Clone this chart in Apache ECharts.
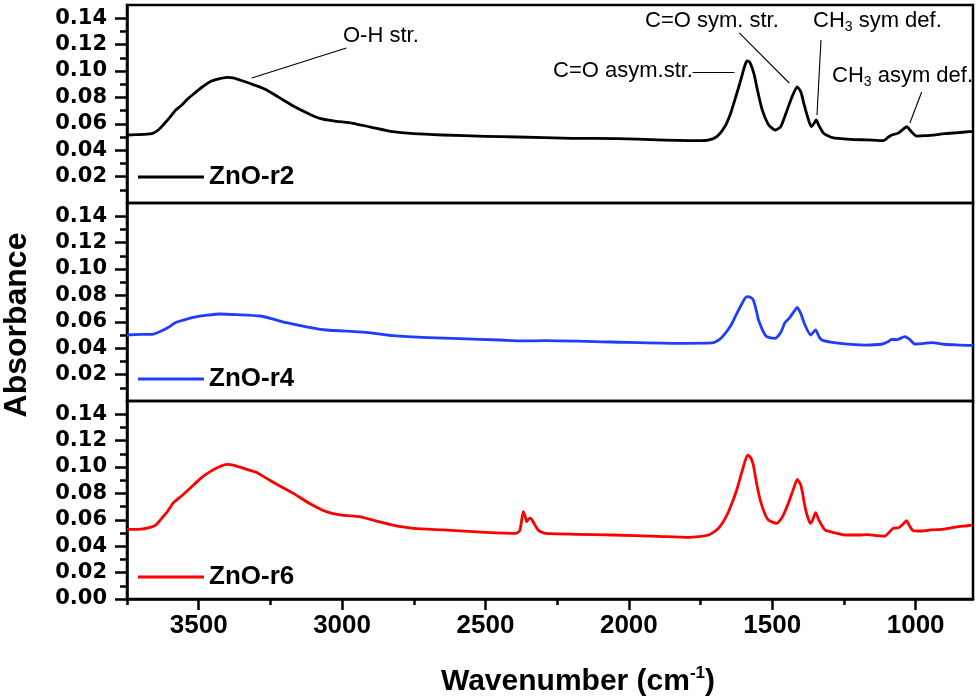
<!DOCTYPE html>
<html>
<head>
<meta charset="utf-8">
<script src="https://cdn.jsdelivr.net/npm/echarts@6/dist/echarts.min.js"></script>
<style>
html,body{margin:0;padding:0;background:#fff;}
#chart{width:980px;height:700px;}
</style>
</head>
<body>
<div id="chart"></div>
<script>
// ---- data ----
const seriesNames = ['ZnO-r2', 'ZnO-r4', 'ZnO-r6'];
const seriesColors = ['#000000', '#1f3cff', '#ff0000'];

const wnR2 = [3750,3720,3690,3660,3640,3620,3600,3580,3560,3540,3518,3490,3460,3430,3402,3380,3356,3320,3290,3263,3220,3170,3120,3078,3030,2962,2900,2823,2750,2649,2500,2387,2200,2039,1900,1750,1720,1692,1665,1645,1625,1610,1595,1587,1578,1564,1550,1535,1515,1500,1489,1470,1448,1430,1413,1400,1390,1375,1364,1355,1347,1338,1321,1290,1228,1170,1112,1095,1083,1060,1040,1031,1015,996,970,938,900,860,814,800];
const absR2 = [0.0515,0.0518,0.0520,0.0528,0.0555,0.0600,0.0650,0.0705,0.0740,0.0785,0.0826,0.0875,0.0919,0.0940,0.0952,0.0948,0.0932,0.0905,0.0882,0.0856,0.0800,0.0735,0.0680,0.0641,0.0622,0.0604,0.0575,0.0540,0.0525,0.0515,0.0505,0.0500,0.0490,0.0488,0.0478,0.0472,0.0478,0.0505,0.0580,0.0680,0.0820,0.0930,0.1045,0.1076,0.1065,0.0980,0.0840,0.0705,0.0600,0.0565,0.0553,0.0580,0.0705,0.0810,0.0880,0.0840,0.0755,0.0640,0.0578,0.0600,0.0629,0.0590,0.0528,0.0495,0.0482,0.0478,0.0472,0.0500,0.0515,0.0530,0.0565,0.0578,0.0540,0.0507,0.0510,0.0515,0.0525,0.0532,0.0540,0.0542];

const wnR4 = [3750,3700,3657,3623,3600,3582,3550,3518,3470,3425,3368,3286,3240,3194,3120,3055,2939,2880,2823,2700,2591,2450,2371,2290,2058,1826,1710,1685,1664,1645,1629,1605,1589,1575,1566,1555,1548,1530,1519,1490,1470,1456,1440,1425,1413,1400,1386,1366,1349,1335,1322,1247,1177,1119,1095,1085,1065,1038,1020,1003,975,946,900,860,818,800];
const absR4 = [0.0500,0.0505,0.0507,0.0538,0.0565,0.0593,0.0615,0.0634,0.0650,0.0659,0.0654,0.0644,0.0620,0.0593,0.0560,0.0538,0.0523,0.0510,0.0495,0.0480,0.0472,0.0462,0.0455,0.0457,0.0447,0.0437,0.0440,0.0465,0.0513,0.0570,0.0639,0.0740,0.0790,0.0785,0.0765,0.0680,0.0614,0.0520,0.0487,0.0475,0.0520,0.0593,0.0630,0.0675,0.0710,0.0660,0.0576,0.0500,0.0538,0.0480,0.0457,0.0432,0.0424,0.0430,0.0450,0.0467,0.0465,0.0487,0.0465,0.0432,0.0435,0.0442,0.0430,0.0425,0.0422,0.0422];

const wnR6 = [3750,3700,3669,3650,3634,3610,3588,3560,3518,3490,3460,3430,3402,3380,3344,3300,3263,3220,3170,3110,3055,3000,2939,2880,2823,2750,2649,2500,2394,2380,2368,2362,2356,2348,2342,2330,2315,2290,2058,1900,1792,1722,1690,1664,1645,1624,1605,1586,1575,1566,1555,1542,1525,1513,1485,1465,1444,1425,1413,1400,1386,1375,1366,1357,1349,1338,1316,1280,1247,1200,1166,1140,1108,1079,1060,1045,1032,1020,1009,980,946,900,860,820,802];
const absR6 = [0.0528,0.0530,0.0543,0.0560,0.0598,0.0660,0.0730,0.0780,0.0864,0.0920,0.0965,0.1000,0.1020,0.1015,0.0990,0.0960,0.0914,0.0860,0.0800,0.0720,0.0662,0.0635,0.0624,0.0590,0.0560,0.0535,0.0523,0.0505,0.0497,0.0520,0.0662,0.0630,0.0586,0.0610,0.0610,0.0570,0.0520,0.0497,0.0485,0.0475,0.0467,0.0485,0.0530,0.0611,0.0700,0.0826,0.0970,0.1090,0.1070,0.1015,0.0880,0.0750,0.0640,0.0598,0.0573,0.0620,0.0725,0.0840,0.0907,0.0860,0.0700,0.0610,0.0573,0.0610,0.0654,0.0600,0.0523,0.0500,0.0485,0.0485,0.0488,0.0480,0.0477,0.0535,0.0540,0.0565,0.0593,0.0550,0.0518,0.0515,0.0523,0.0530,0.0545,0.0555,0.0560];

const xMajorTicks = [3500, 3000, 2500, 2000, 1500, 1000];
const xMinorTicks = [3750, 3250, 2750, 2250, 1750, 1250];
const yMajorTicksTop = [0.02, 0.04, 0.06, 0.08, 0.10, 0.12, 0.14];
const yMajorTicksBottom = [0.00, 0.02, 0.04, 0.06, 0.08, 0.10, 0.12, 0.14];
const yMinorTicks = [0.01, 0.03, 0.05, 0.07, 0.09, 0.11, 0.13];

// annotation leader lines (data space of top panel): [wn1, abs1, wn2, abs2]
const leaderLines = [
  [2985, 0.1174, 3315, 0.0947],
  [1778, 0.0992, 1632, 0.0992],
  [1615, 0.1288, 1441, 0.0909],
  [1330, 0.1235, 1344, 0.0667],
  [979, 0.0841, 1020, 0.0606]
];

// ---- chart ----
const chart = echarts.init(document.getElementById('chart'), null, {renderer: 'canvas'});
const wnList = [wnR2, wnR4, wnR6];
const absList = [absR2, absR4, absR6];

const PL = 127, PW = 846, PH = 198, TOPS = [5, 203, 401];

const grids = TOPS.map(t => ({left: PL, top: t, width: PW, height: PH, show: true,
  borderColor: '#000', borderWidth: 2.5, backgroundColor: 'transparent', containLabel: false}));

const xAxes = [];
const yAxes = [];
for (let i = 0; i < 3; i++) {
  const bottom = i === 2;
  xAxes.push({
    type: 'value', gridIndex: i, min: 800, max: 3750, inverse: true, position: 'bottom',
    axisLine: {show: bottom, lineStyle: {color: '#000', width: 2.5}},
    axisTick: {show: bottom, customValues: xMajorTicks, length: 11, inside: false, lineStyle: {color: '#000', width: 2.5}},
    axisLabel: {show: bottom, customValues: xMajorTicks, margin: 14, color: '#000',
      fontFamily: 'Liberation Sans', fontWeight: 'bold', fontSize: 26,
      formatter: v => String(Math.round(v))},
    splitLine: {show: false},
    name: bottom ? '{a|Wavenumber (cm}{s|-1}{a|)}' : '',
    nameLocation: 'middle', nameGap: 66,
    nameTextStyle: {padding: [0, 0, 0, 56], rich: {
      a: {fontFamily: 'Liberation Sans', fontWeight: 'bold', fontSize: 30, color: '#000', lineHeight: 34},
      s: {fontFamily: 'Liberation Sans', fontWeight: 'bold', fontSize: 17, color: '#000', lineHeight: 16, verticalAlign: 'top'}
    }}
  });
  if (bottom) {
    xAxes.push({
      type: 'value', gridIndex: i, min: 800, max: 3750, inverse: true, position: 'bottom', offset: 0,
      axisLine: {show: false},
      axisTick: {show: true, customValues: xMinorTicks, length: 6, lineStyle: {color: '#000', width: 2.5}},
      axisLabel: {show: false}, splitLine: {show: false}
    });
  }
  const majors = bottom ? yMajorTicksBottom : yMajorTicksTop;
  yAxes.push({
    type: 'value', gridIndex: i, min: 0, max: 0.15, position: 'left',
    axisLine: {show: true, lineStyle: {color: '#000', width: 2.5}},
    axisTick: {show: true, customValues: majors, length: 12, lineStyle: {color: '#000', width: 2.5}},
    axisLabel: {show: true, customValues: majors, margin: 20, color: '#000',
      fontFamily: 'DejaVu Sans', fontWeight: 'bold', fontSize: 21,
      formatter: v => Number(v).toFixed(2)},
    splitLine: {show: false}
  });
  yAxes.push({
    type: 'value', gridIndex: i, min: 0, max: 0.15, position: 'left', offset: 0,
    axisLine: {show: false},
    axisTick: {show: true, customValues: yMinorTicks, length: 7, lineStyle: {color: '#000', width: 2.5}},
    axisLabel: {show: false}, splitLine: {show: false}
  });
}

const xIdx = [0, 1, 2];
const series = seriesNames.map((name, i) => {
  const s = {
    name, type: 'line', xAxisIndex: xIdx[i], yAxisIndex: i * 2, symbol: 'none', showSymbol: false,
    smooth: 0.2,
    lineStyle: {color: seriesColors[i], width: 2.8, join: 'round'}, itemStyle: {color: seriesColors[i]},
    data: wnList[i].map((w, k) => [w, absList[i][k]]), silent: true, z: 3
  };
  if (i === 0) {
    s.markLine = {
      silent: true, symbol: ['none', 'none'], animation: false,
      lineStyle: {color: '#000', width: 1.1, type: 'solid'},
      label: {show: false},
      data: leaderLines.map(l => [{coord: [l[0], l[1]]}, {coord: [l[2], l[3]]}])
    };
  }
  return s;
});

const legendTops = [164, 366, 564];
const legends = seriesNames.map((name, i) => ({
  data: [name], left: 138, top: legendTops[i], padding: 0, itemWidth: 66, itemHeight: 14,
  selectedMode: false, icon: 'path://M0,0 L66,0 L66,3 L0,3 Z',
  itemStyle: {color: seriesColors[i]},
  textStyle: {fontFamily: 'Liberation Sans', fontWeight: 'bold', fontSize: 26, color: '#000'}
}));

const annFont = {fontFamily: 'Liberation Sans', fontSize: 22, fill: '#000'};
const richCH = {
  a: {fontFamily: 'Liberation Sans', fontSize: 22, color: '#000', lineHeight: 26},
  b: {fontFamily: 'Liberation Sans', fontSize: 14, color: '#000', lineHeight: 14, verticalAlign: 'bottom'}
};
function ann(text, x, y) {
  return {type: 'text', left: x, top: y - 12, silent: true, z: 10,
    style: Object.assign({text}, annFont)};
}
function annRich(text, x, y) {
  return {type: 'text', left: x, top: y - 13, silent: true, z: 10,
    style: {text, rich: richCH, fill: '#000', fontFamily: 'Liberation Sans', fontSize: 22}};
}

const graphics = [
  ann('O-H str.', 343, 37),
  ann('C=O sym. str.', 645, 22),
  annRich('{a|CH}{b|3}{a| sym def.}', 813, 23),
  ann('C=O asym.str.', 553, 72),
  annRich('{a|CH}{b|3}{a| asym def.}', 832, 78),
  {type: 'text', x: 17, y: 325, rotation: Math.PI / 2, silent: true,
    style: {text: 'Absorbance', x: 0, y: 0, align: 'center', verticalAlign: 'middle',
      fontFamily: 'Liberation Sans', fontWeight: 'bold', fontSize: 32, fill: '#000'}}
];

chart.setOption({
  animation: false,
  backgroundColor: '#ffffff',
  grid: grids,
  xAxis: xAxes,
  yAxis: yAxes,
  legend: legends,
  series,
  graphic: graphics
});
</script>
</body>
</html>
